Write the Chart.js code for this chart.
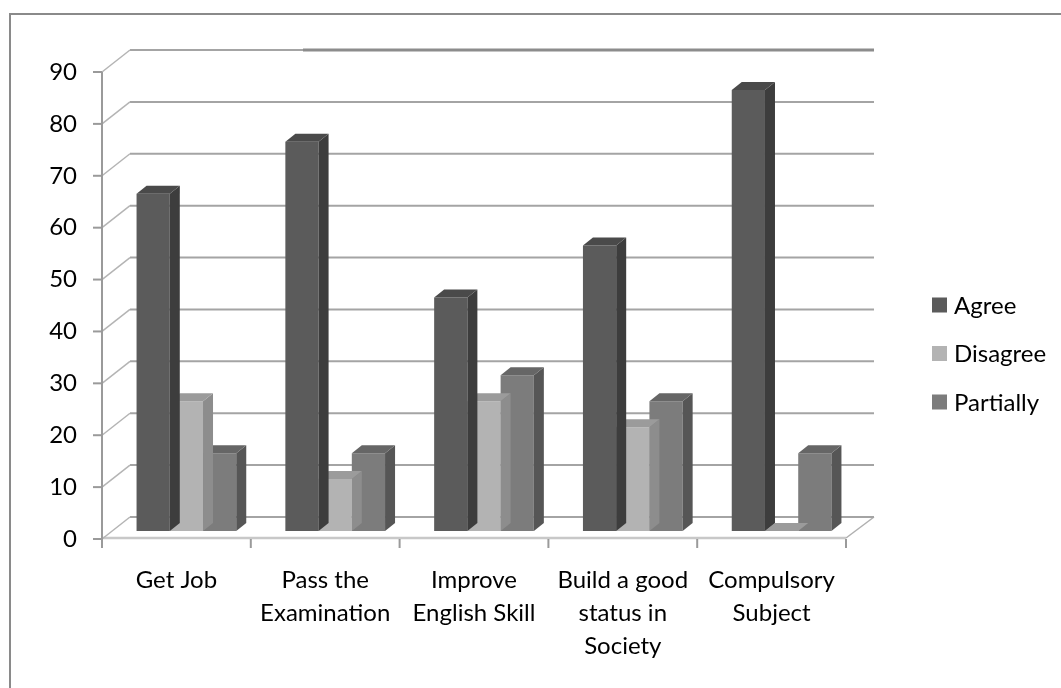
<!DOCTYPE html>
<html>
<head>
<meta charset="utf-8">
<script src="https://cdn.jsdelivr.net/npm/chart.js@4.4.1/dist/chart.umd.min.js"></script>
<style>
  html, body { margin: 0; padding: 0; background: #fff; }
  #wrap { width: 1061px; height: 688px; }
</style>
</head>
<body>
<div id="wrap"><canvas id="chart" width="1061" height="688"></canvas></div>
<script>
const categories = [
  'Get Job',
  ['Pass the', 'Examination'],
  ['Improve', 'English Skill'],
  ['Build a good', 'status in', 'Society'],
  ['Compulsory', 'Subject']
];
const agree = [65, 75, 45, 55, 85];
const disagree = [25, 10, 25, 20, 0];
const partially = [15, 15, 30, 25, 15];
const yTicks = [0, 10, 20, 30, 40, 50, 60, 70, 80, 90];

// fake 3D: back wall offset, bars stand in the middle of the floor
const WALL = { x: 28, y: -22 };
const SHIFT = { x: 10, y: -8 };
const DEPTH = { x: 10, y: -8 };

const faces = [
  { front: '#5b5b5b', side: '#3d3d3d', top: '#4a4a4a' },
  { front: '#b3b3b3', side: '#8d8d8d', top: '#9b9b9b' },
  { front: '#7c7c7c', side: '#565656', top: '#666666' }
];

function poly(ctx, pts, fill) {
  ctx.beginPath();
  ctx.moveTo(pts[0][0], pts[0][1]);
  pts.slice(1).forEach(p => ctx.lineTo(p[0], p[1]));
  ctx.closePath();
  ctx.fillStyle = fill;
  ctx.fill();
}

function line(ctx, x1, y1, x2, y2, color, w) {
  ctx.beginPath();
  ctx.moveTo(x1, y1);
  ctx.lineTo(x2, y2);
  ctx.strokeStyle = color;
  ctx.lineWidth = w;
  ctx.stroke();
}

const walls3d = {
  id: 'walls3d',
  beforeDatasetsDraw(chart) {
    const { ctx, chartArea: a, scales: { x, y } } = chart;
    ctx.save();

    // floor
    const y0 = y.getPixelForValue(0);
    poly(ctx, [[a.left, y0], [a.right, y0], [a.right + WALL.x, y0 + WALL.y], [a.left + WALL.x, y0 + WALL.y]], '#fff');
    line(ctx, a.left, y0 - 1, a.right, y0 - 1, '#c8c8c8', 2.5);
    line(ctx, a.right, y0 - 1, a.right + WALL.x, y0 + WALL.y, '#b0b0b0', 1.5);

    // back wall grid + side wall diagonals
    yTicks.forEach(v => {
      const py = y.getPixelForValue(v);
      line(ctx, a.left + WALL.x, py + WALL.y, a.right + WALL.x, py + WALL.y, '#a4a4a4', 2);
      line(ctx, a.left, py, a.left + WALL.x, py + WALL.y, '#b4b4b4', 1.5);
    });
    const top = y.getPixelForValue(90) + WALL.y;
    line(ctx, 303, top, a.right + WALL.x, top, '#8c8c8c', 3);

    // value axis
    line(ctx, a.left, y.getPixelForValue(90), a.left, y0, '#9a9a9a', 2);
    yTicks.forEach(v => {
      const py = y.getPixelForValue(v);
      line(ctx, a.left - 9, py, a.left, py, '#9a9a9a', 2);
    });

    // category ticks between groups
    for (let i = 0; i <= categories.length; i++) {
      const px = x.getPixelForValue(i - 0.5);
      line(ctx, px, y0, px, y0 + 9, '#9a9a9a', 2);
    }
    ctx.restore();

    ctx.save();
    ctx.translate(SHIFT.x, SHIFT.y);
  },
  afterDatasetDraw(chart, args) {
    const ctx = chart.ctx;
    const f = faces[args.index];
    args.meta.data.forEach(bar => {
      const { x, y, base, width } = bar.getProps(['x', 'y', 'base', 'width'], true);
      const l = x - width / 2, r = x + width / 2;
      poly(ctx, [[r, y], [r + DEPTH.x, y + DEPTH.y], [r + DEPTH.x, base + DEPTH.y], [r, base]], f.side);
      poly(ctx, [[l, y], [r, y], [r + DEPTH.x, y + DEPTH.y], [l + DEPTH.x, y + DEPTH.y]], f.top);
    });
  },
  afterDatasetsDraw(chart) {
    chart.ctx.restore();
  },
  afterDraw(chart) {
    const ctx = chart.ctx;
    ctx.save();
    // legend
    ctx.font = '24px Lato';
    ctx.textBaseline = 'middle';
    ctx.textAlign = 'left';
    chart.data.datasets.forEach((ds, i) => {
      const cy = 305 + i * 48.5;
      ctx.fillStyle = ds.backgroundColor;
      ctx.fillRect(932, cy - 7.5, 15, 15);
      ctx.fillStyle = '#000';
      ctx.fillText(ds.label, 954, cy + 1);
    });
    // outer frame
    ctx.strokeStyle = '#8a8a8a';
    ctx.lineWidth = 2;
    ctx.strokeRect(10, 14, 1100, 700);
    ctx.restore();
  }
};

new Chart(document.getElementById('chart'), {
  type: 'bar',
  data: {
    labels: categories,
    datasets: [
      { label: 'Agree', data: agree, backgroundColor: faces[0].front },
      { label: 'Disagree', data: disagree, backgroundColor: faces[1].front },
      { label: 'Partially', data: partially, backgroundColor: faces[2].front }
    ].map(d => ({ ...d, borderWidth: 0, clip: false, categoryPercentage: 0.67, barPercentage: 1 }))
  },
  options: {
    responsive: false,
    animation: false,
    devicePixelRatio: 1,
    layout: { padding: { left: 0, right: 215, top: 72, bottom: 0 } },
    plugins: { legend: { display: false }, tooltip: { enabled: false } },
    scales: {
      x: {
        grid: { display: false, drawTicks: false },
        border: { display: false },
        ticks: {
          padding: 25,
          color: '#000',
          maxRotation: 0,
          autoSkip: false,
          font: { family: 'Lato', size: 24, lineHeight: '33px' }
        },
        afterFit(scale) { scale.height = 149; }
      },
      y: {
        min: 0,
        max: 90,
        grid: { display: false, drawTicks: false },
        border: { display: false },
        ticks: {
          stepSize: 10,
          padding: 25,
          color: '#000',
          font: { family: 'Lato', size: 24 }
        },
        afterFit(scale) { scale.width = 102; }
      }
    }
  },
  plugins: [walls3d]
});
</script>
</body>
</html>
